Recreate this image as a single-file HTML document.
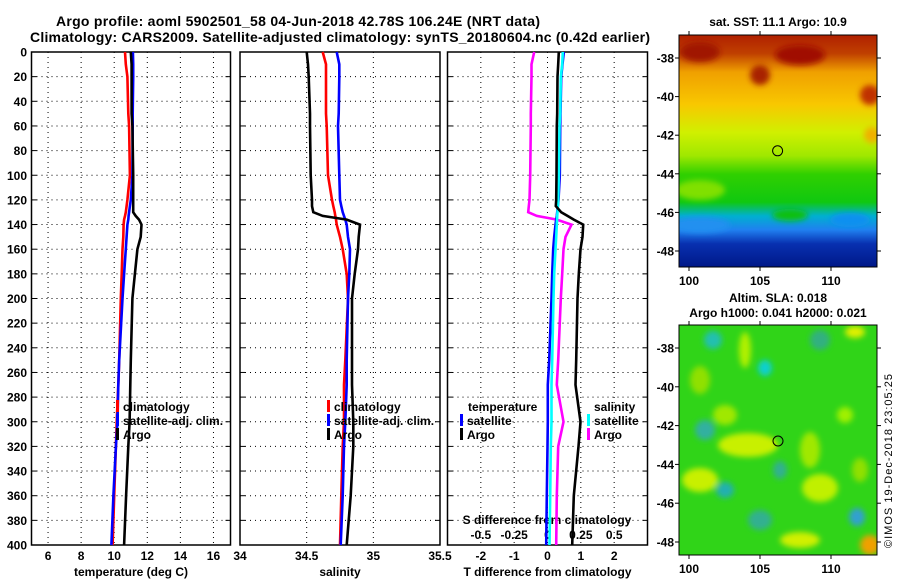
<!DOCTYPE html>
<html><head><meta charset="utf-8"><style>
html,body{margin:0;padding:0;background:#fff;}
svg{display:block;font-family:"Liberation Sans",sans-serif;font-weight:bold;}
</style></head><body>
<svg id="c" width="900" height="580" viewBox="0 0 900 580" xmlns="http://www.w3.org/2000/svg">
<defs>
<linearGradient id="sstg" x1="0" y1="0" x2="0" y2="1">
<stop offset="0" stop-color="#b02000"/><stop offset="0.08" stop-color="#c04000"/>
<stop offset="0.16" stop-color="#f0a000"/><stop offset="0.3" stop-color="#f8c800"/>
<stop offset="0.42" stop-color="#d0f000"/><stop offset="0.52" stop-color="#a0e800"/>
<stop offset="0.6" stop-color="#30d000"/><stop offset="0.72" stop-color="#10c810"/>
<stop offset="0.78" stop-color="#00b0d0"/><stop offset="0.84" stop-color="#2080f0"/>
<stop offset="0.9" stop-color="#0830b0"/><stop offset="1" stop-color="#001888"/>
</linearGradient>
<filter id="bl" x="-50%" y="-50%" width="200%" height="200%"><feGaussianBlur stdDeviation="3"/></filter>
<filter id="bl2" x="-50%" y="-50%" width="200%" height="200%"><feGaussianBlur stdDeviation="3"/></filter>
<clipPath id="m1c"><rect x="679" y="35" width="198" height="232"/></clipPath>
<clipPath id="m2c"><rect x="679" y="325" width="198" height="230"/></clipPath>
</defs>
<text x="298" y="26" text-anchor="middle" font-size="14" textLength="484">Argo profile: aoml 5902501_58 04-Jun-2018 42.78S 106.24E (NRT data)</text>
<text x="340" y="42" text-anchor="middle" font-size="14" textLength="620">Climatology: CARS2009. Satellite-adjusted climatology: synTS_20180604.nc (0.42d earlier)</text>

<g clip-path="url(#m1c)">
<rect x="679" y="35" width="198" height="232" fill="url(#sstg)"/>
<g filter="url(#bl2)">
<ellipse cx="700" cy="52" rx="20" ry="10" fill="#a01800"/>
<ellipse cx="800" cy="55" rx="25" ry="10" fill="#a01000"/>
<ellipse cx="760" cy="75" rx="10" ry="10" fill="#a82000"/>
<ellipse cx="870" cy="95" rx="10" ry="10" fill="#c03000"/>
<ellipse cx="872" cy="135" rx="8" ry="8" fill="#f0b000"/>
<ellipse cx="700" cy="225" rx="30" ry="8" fill="#2090f0"/>
<ellipse cx="790" cy="215" rx="18" ry="6" fill="#10c010"/>
<ellipse cx="850" cy="220" rx="20" ry="7" fill="#1090f0"/>
<ellipse cx="700" cy="190" rx="25" ry="10" fill="#80e000"/>
</g>
</g>
<rect x="679" y="35" width="198" height="232" fill="none" stroke="#000"/>
<circle cx="777.6" cy="150.8" r="5" fill="none" stroke="#000"/>
<text x="778" y="26" text-anchor="middle" font-size="12">sat. SST: 11.1 Argo: 10.9</text>

<g clip-path="url(#m2c)">
<rect x="679" y="325" width="198" height="230" fill="#30d418"/>
<g filter="url(#bl)">
<ellipse cx="713" cy="340" rx="9" ry="9" fill="#20c0b0"/>
<ellipse cx="765" cy="368" rx="7" ry="8" fill="#10d0d0"/>
<ellipse cx="745" cy="350" rx="6" ry="18" fill="#b0f000"/>
<ellipse cx="705" cy="430" rx="10" ry="10" fill="#30b0a0"/>
<ellipse cx="748" cy="445" rx="30" ry="12" fill="#c8f000"/>
<ellipse cx="725" cy="415" rx="12" ry="10" fill="#a0e800"/>
<ellipse cx="820" cy="488" rx="18" ry="14" fill="#c0f000"/>
<ellipse cx="810" cy="450" rx="10" ry="18" fill="#a0e800"/>
<ellipse cx="700" cy="480" rx="18" ry="12" fill="#c8f000"/>
<ellipse cx="725" cy="490" rx="9" ry="8" fill="#20b0b0"/>
<ellipse cx="857" cy="517" rx="8" ry="9" fill="#30a0d0"/>
<ellipse cx="870" cy="545" rx="10" ry="10" fill="#f0a000"/>
<ellipse cx="780" cy="470" rx="7" ry="9" fill="#30b090"/>
<ellipse cx="820" cy="340" rx="10" ry="10" fill="#30b080"/>
<ellipse cx="855" cy="332" rx="10" ry="6" fill="#e0f000"/>
<ellipse cx="845" cy="415" rx="8" ry="8" fill="#a0f000"/>
<ellipse cx="800" cy="540" rx="20" ry="8" fill="#d0f000"/>
<ellipse cx="760" cy="520" rx="12" ry="10" fill="#30b090"/>
<ellipse cx="700" cy="380" rx="10" ry="14" fill="#90e000"/>
<ellipse cx="860" cy="470" rx="8" ry="12" fill="#90e000"/>
</g>
</g>
<rect x="679" y="325" width="198" height="230" fill="none" stroke="#000"/>
<circle cx="778" cy="441" r="5" fill="none" stroke="#000"/>
<text x="778" y="302" text-anchor="middle" font-size="12">Altim. SLA: 0.018</text>
<text x="778" y="317" text-anchor="middle" font-size="12">Argo h1000: 0.041 h2000: 0.021</text>
<text transform="translate(892,548) rotate(-90)" font-size="11" font-weight="normal" textLength="174">©IMOS 19-Dec-2018 23:05:25</text>
</svg>
<script>
// ---- data ----
const depths = [0,10,20,50,60,100,120,125,130,133,136,140,150,160,180,200,250,270,300,320,360,400];
const tempClim   = [10.65,10.7,10.8,10.85,10.9,10.95,10.8,10.75,10.7,10.65,10.6,10.57,10.55,10.5,10.45,10.4,10.3,10.25,10.15,10.1,10.0,9.9];
const tempSatAdj = [11.13,11.15,11.15,11.12,11.12,11.1,11.0,10.95,10.9,10.87,10.85,10.8,10.75,10.7,10.6,10.5,10.3,10.25,10.2,10.1,9.95,9.83];
const tempArgo   = [11.0,11.05,11.05,11.05,11.1,11.15,11.15,11.15,11.15,11.3,11.5,11.65,11.6,11.4,11.25,11.1,11.0,10.97,10.93,10.85,10.72,10.6];
const salClim    = [34.62,34.645,34.645,34.645,34.65,34.66,34.69,34.70,34.71,34.715,34.72,34.725,34.75,34.77,34.80,34.81,34.79,34.78,34.78,34.77,34.76,34.75];
const salSatAdj  = [34.725,34.745,34.745,34.74,34.735,34.745,34.75,34.76,34.77,34.78,34.79,34.80,34.81,34.825,34.82,34.81,34.80,34.80,34.79,34.78,34.77,34.755];
const salArgo    = [34.50,34.51,34.515,34.525,34.525,34.53,34.54,34.54,34.55,34.62,34.80,34.90,34.89,34.885,34.86,34.84,34.84,34.84,34.85,34.85,34.83,34.80];
const dTsat      = [0.49,0.45,0.41,0.39,0.38,0.37,0.33,0.31,0.29,0.28,0.26,0.24,0.2,0.17,0.14,0.12,0.05,0.01,0.01,0.0,-0.02,-0.04];
const dTargo     = [0.34,0.32,0.3,0.29,0.28,0.27,0.26,0.25,0.41,0.6,0.79,1.07,1.05,0.99,0.94,0.9,0.86,0.84,0.99,0.93,0.79,0.74];
const dSsat      = [0.115,0.11,0.1,0.095,0.09,0.085,0.08,0.078,0.075,0.073,0.072,0.07,0.065,0.06,0.05,0.045,0.035,0.03,0.03,0.025,0.02,0.015];
const dSargo     = [-0.10,-0.12,-0.12,-0.125,-0.125,-0.13,-0.135,-0.14,-0.145,-0.08,0.07,0.18,0.135,0.12,0.11,0.10,0.08,0.07,0.12,0.08,0.07,0.065];
const depthTicks = [0,20,40,60,80,100,120,140,160,180,200,220,240,260,280,300,320,340,360,380,400];
const tempTicks = [6,8,10,12,14,16];
const salTicks = [34,34.5,35,35.5];
const salTickLabels = ['34','34.5','35','35.5'];
const dTTicks = [-2,-1,0,1,2];
const dSTicks = [-0.5,-0.25,0,0.25,0.5];
const dSTickLabels = ['-0.5','-0.25','0','0.25','0.5'];
const mapLonTicks = [100,105,110];
const mapLatTicks = [-38,-40,-42,-44,-46,-48];

// ---- scales ----
const Y = d => 52 + d*(545-52)/400;
const X1 = t => 31.5 + (t-5)*(230-31.5)/12;
const X2 = s => 240 + (s-34)*200/1.5;
const X3 = t => 447.5 + (t+3)*200/6;
const X3s = s => X3(s*4);
const lonX = l => 689 + (l-100)*14.2;
const lat1 = a => 58 + (-38-a)*19.3;
const lat2 = a => 348 + (-38-a)*19.4;

const svg = document.getElementById('c');
const NS = 'http://www.w3.org/2000/svg';
function mk(tag, attrs, parent){ const e=document.createElementNS(NS,tag); for(const k in attrs) e.setAttribute(k,attrs[k]); (parent||svg).appendChild(e); return e; }
function txt(x,y,s,size,anchor){ const t=mk('text',{x:x,y:y,'font-size':size,'text-anchor':anchor||'middle'}); t.textContent=s; return t; }

const panels = [
 {name:'temperature',x0:31.5,x1:230.5,X:X1,ticks:tempTicks,labels:tempTicks.map(String),title:'temperature (deg C)'},
 {name:'salinity',x0:240,x1:440,X:X2,ticks:salTicks,labels:salTickLabels,title:'salinity'},
 {name:'difference',x0:447.5,x1:647.5,X:X3,ticks:dTTicks,labels:dTTicks.map(String),title:'T difference from climatology'}
];
panels.forEach((p,pi)=>{
  const g = mk('g',{});
  
  
  depthTicks.forEach(d=>{
    const l = mk('line',{x1:p.x0,x2:p.x1,y1:Y(d),y2:Y(d),stroke:'#000','stroke-width':1,'stroke-dasharray':'1,4'},g);
    
    
    mk('line',{x1:p.x0,x2:p.x0+5,y1:Y(d),y2:Y(d),stroke:'#000'},g);
    mk('line',{x1:p.x1-5,x2:p.x1,y1:Y(d),y2:Y(d),stroke:'#000'},g);
  });
  p.ticks.forEach((t,i)=>{
    const x=p.X(t);
    if (x>p.x0+1 && x<p.x1-1) mk('line',{x1:x,x2:x,y1:52,y2:545,stroke:'#000','stroke-dasharray':'1,4'},g);
    const lb = txt(x,560,p.labels[i],12);
    
    
  });
  const r = mk('rect',{x:p.x0,y:52,width:p.x1-p.x0,height:493,fill:'none',stroke:'#000','stroke-width':1.5},g);
  
  
  const at = txt((p.x0+p.x1)/2,576,p.title,12);
  
  
});
depthTicks.forEach(d=>{
  const t = txt(27,Y(d)+4.5,String(d),12,'end');
  
  
});
const sdt = txt(547,524,'S difference from climatology',12);


dSTicks.forEach((s,i)=>{
  const t = txt(X3s(s),539,dSTickLabels[i],12);
  
  
});

function series(X, vals, color, name){
  const pts = depths.map((d,i)=>X(vals[i]).toFixed(1)+','+Y(d).toFixed(1)).join(' ');
  const pl = mk('polyline',{points:pts,fill:'none',stroke:color,'stroke-width':2.6,'stroke-linejoin':'miter'});
  
  
}
series(X1,tempClim,'#f00','temperature-climatology-line');
series(X1,tempSatAdj,'#00f','temperature-satellite-adj-line');
series(X1,tempArgo,'#000','temperature-argo-line');
series(X2,salClim,'#f00','salinity-climatology-line');
series(X2,salSatAdj,'#00f','salinity-satellite-adj-line');
series(X2,salArgo,'#000','salinity-argo-line');
series(X3s,dSargo,'#f0f','salinity-diff-argo-line');
series(X3,dTsat,'#00f','temperature-diff-satellite-line');
series(X3s,dSsat,'#0ff','salinity-diff-satellite-line');
series(X3,dTargo,'#000','temperature-diff-argo-line');

function legend(x,y,color,label,name){
  const g = mk('g',{});
  
  
  mk('rect',{x:x,y:y-11,width:3,height:12,fill:color},g);
  const t=mk('text',{x:x+7,y:y,'font-size':12},g); t.textContent=label;
}
legend(116,411,'#f00','climatology','legend-temperature-climatology');
legend(116,425,'#00f','satellite-adj. clim.','legend-temperature-satellite-adj');
legend(116,439,'#000','Argo','legend-temperature-argo');
legend(327,411,'#f00','climatology','legend-salinity-climatology');
legend(327,425,'#00f','satellite-adj. clim.','legend-salinity-satellite-adj');
legend(327,439,'#000','Argo','legend-salinity-argo');
const lt = txt(468,411,'temperature',12,'start');


legend(460,425,'#00f','satellite','legend-temperature-diff-satellite');
legend(460,439,'#000','Argo','legend-temperature-diff-argo');
const ls = txt(594,411,'salinity',12,'start');


legend(587,425,'#0ff','satellite','legend-salinity-diff-satellite');
legend(587,439,'#f0f','Argo','legend-salinity-diff-argo');

[[35,267,lat1,'sst'],[325,555,lat2,'sla']].forEach(([top,bot,LY,nm])=>{
  mapLonTicks.forEach(l=>{
    const x=lonX(l);
    mk('line',{x1:x,x2:x,y1:bot,y2:bot+4,stroke:'#000'});
    mk('line',{x1:x,x2:x,y1:top,y2:top-4,stroke:'#000'});
    const t = txt(x,bot+18,String(l),12);
    
    
  });
  mapLatTicks.forEach(a=>{
    const y=LY(a);
    mk('line',{x1:675,x2:679,y1:y,y2:y,stroke:'#000'});
    mk('line',{x1:877,x2:881,y1:y,y2:y,stroke:'#000'});
    const t = txt(674,y+4.5,String(a),12,'end');
    
    
  });
});
</script>
</body></html>
